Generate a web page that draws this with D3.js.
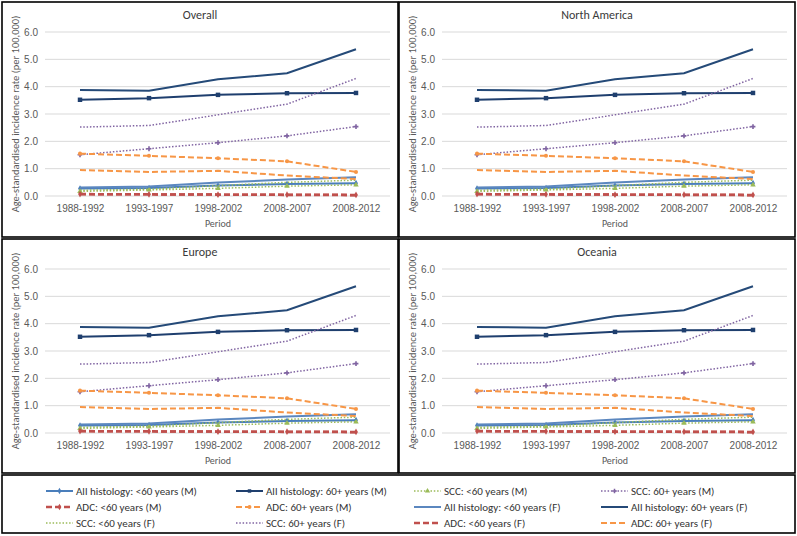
<!DOCTYPE html>
<html>
<head>
<meta charset="utf-8">
<script src="https://cdn.jsdelivr.net/npm/d3@7"></script>
<style>
  body { margin: 0; background: #fff; }
  svg { display: block; font-family: Carlito, Lato, "Liberation Sans", sans-serif; font-weight: 400; }
</style>
</head>
<body>
<svg id="chart" width="797" height="536"></svg>
<script>
// categories and panel titles
const periods = ["1988-1992", "1993-1997", "1998-2002", "2008-2007", "2008-2012"]
const panelTitles = ["Overall", "North America", "Europe", "Oceania"]
const yTicks = [0, 1, 2, 3, 4, 5, 6]

// series values (age-standardised incidence per 100,000)
const allLt60M  = [0.27, 0.29, 0.38, 0.44, 0.47]
const all60M    = [3.52, 3.58, 3.70, 3.76, 3.77]
const sccLt60M  = [0.17, 0.22, 0.28, 0.36, 0.41]
const scc60M    = [1.51, 1.73, 1.95, 2.20, 2.54]
const adcLt60M  = [0.07, 0.06, 0.05, 0.05, 0.04]
const adc60M    = [1.55, 1.47, 1.38, 1.27, 0.88]
const allLt60F  = [0.31, 0.35, 0.49, 0.60, 0.69]
const all60F    = [3.88, 3.85, 4.27, 4.49, 5.37]
const sccLt60F  = [0.21, 0.25, 0.38, 0.50, 0.58]
const scc60F    = [2.52, 2.58, 2.97, 3.36, 4.30]
const adcLt60F  = [0.06, 0.06, 0.05, 0.04, 0.03]
const adc60F    = [0.95, 0.88, 0.92, 0.75, 0.62]

const seriesNames = [
    "All histology: <60 years (M)", "All histology: 60+ years (M)", "SCC: <60 years (M)", "SCC: 60+ years (M)",
    "ADC: <60 years (M)", "ADC: 60+ years (M)", "All histology: <60 years (F)", "All histology: 60+ years (F)",
    "SCC: <60 years (F)", "SCC: 60+ years (F)", "ADC: <60 years (F)", "ADC: 60+ years (F)"
]
const seriesValues = [allLt60M, all60M, sccLt60M, scc60M, adcLt60M, adc60M,
                      allLt60F, all60F, sccLt60F, scc60F, adcLt60F, adc60F]

// styles per series (same order)
const DOT = "1.5 1.8", DASH = "6 3"
const styles = [
    { color: "#4a7ebb", width: 2,   dash: null, marker: d3.symbolDiamond },
    { color: "#1f3f6e", width: 2,   dash: null, marker: d3.symbolSquare },
    { color: "#9bbb59", width: 1.5, dash: DOT,  marker: d3.symbolTriangle },
    { color: "#8064a2", width: 1.5, dash: DOT,  marker: d3.symbolCross },
    { color: "#c0504d", width: 2.5, dash: DASH, marker: d3.symbolDiamond },
    { color: "#f79646", width: 2,   dash: DASH, marker: d3.symbolCircle },
    { color: "#5b87bf", width: 2,   dash: null, marker: null },
    { color: "#254a78", width: 2,   dash: null, marker: null },
    { color: "#9bbb59", width: 1.5, dash: DOT,  marker: null },
    { color: "#8064a2", width: 1.5, dash: DOT,  marker: null },
    { color: "#c0504d", width: 2.5, dash: DASH, marker: null },
    { color: "#f79646", width: 2,   dash: DASH, marker: null },
]

const svg = d3.select("#chart")

// panel boxes: [x, y, w, h]
const panels = [[2, 2, 396, 235], [399, 2, 396, 235], [2, 239, 396, 234], [399, 239, 396, 234]]

panels.forEach((p, pi) => {
    const [px, py, pw, ph] = p
    const g = svg.append("g").attr("transform", `translate(${px},${py})`)

    g.append("rect")
        .attr("width", pw).attr("height", ph)
        .attr("fill", "#fff").attr("stroke", "#000").attr("stroke-width", 1.6)

    const x = d3.scalePoint().domain(periods).range([78, 354]).padding(0)
    const y = d3.scaleLinear().domain([0, 6]).range([194, 30])

    // gridlines
    g.append("g").selectAll("line").data(yTicks).join("line")
        .attr("x1", 43).attr("x2", 388)
        .attr("y1", d => y(d)).attr("y2", d => y(d))
        .attr("stroke", "#d9d9d9").attr("stroke-width", 1)

    // y axis labels
    const yAxis = d3.axisLeft(y).tickValues(yTicks).tickFormat(d3.format(".1f")).tickSize(0).tickPadding(0)
    g.append("g").attr("transform", "translate(36,0)").call(yAxis)
        .call(a => a.select(".domain").remove())
        .selectAll("text").attr("font-size", 10).attr("fill", "#595959").attr("font-family", null)

    // x axis labels
    const xAxis = d3.axisBottom(x).tickSize(0).tickPadding(0)
    g.append("g").attr("transform", "translate(0,203)").call(xAxis)
        .call(a => a.select(".domain").remove())
        .selectAll("text").attr("font-size", 10).attr("fill", "#595959").attr("font-family", null)

    g.append("text")
        .attr("x", pw / 2).attr("y", 17)
        .attr("text-anchor", "middle").attr("font-size", 12).attr("font-weight", 400).attr("fill", "#3a3a3a")
        .text(panelTitles[pi])

    g.append("text")
        .attr("x", 216).attr("y", 225)
        .attr("text-anchor", "middle").attr("font-size", 10).attr("fill", "#595959")
        .text("Period")

    g.append("text")
        .attr("transform", `translate(17,${(y(0) + y(6)) / 2}) rotate(-90)`)
        .attr("text-anchor", "middle").attr("font-size", 10.5).attr("fill", "#595959")
        .text("Age-standardised incidence rate (per 100,000)")

    const line = d3.line().x((d, i) => x(periods[i])).y(d => y(d))

    seriesValues.forEach((vals, si) => {
        const st = styles[si]
        g.append("path")
            .datum(vals)
            .attr("fill", "none")
            .attr("stroke", st.color)
            .attr("stroke-width", st.width)
            .attr("stroke-dasharray", st.dash)
            .attr("d", line)
        if (st.marker) {
            g.append("g").selectAll("path").data(vals).join("path")
                .attr("transform", (d, i) => `translate(${x(periods[i])},${y(d)})`)
                .attr("d", d3.symbol(st.marker, st.marker === d3.symbolSquare ? 20 : 13))
                .attr("fill", st.color)
        }
    })
})

// legend
const lg = svg.append("g")
lg.append("rect")
    .attr("x", 2).attr("y", 475).attr("width", 793).attr("height", 58)
    .attr("fill", "#fff").attr("stroke", "#000").attr("stroke-width", 1.6)

const colX = [46, 236, 414, 601]
const rowY = [491, 507, 523]
seriesNames.forEach((name, i) => {
    const st = styles[i]
    const cx = colX[i % 4], cy = rowY[Math.floor(i / 4)]
    lg.append("line")
        .attr("x1", cx).attr("x2", cx + 27).attr("y1", cy).attr("y2", cy)
        .attr("stroke", st.color).attr("stroke-width", st.width)
        .attr("stroke-dasharray", st.dash)
    if (st.marker) {
        lg.append("path")
            .attr("transform", `translate(${cx + 13.5},${cy})`)
            .attr("d", d3.symbol(st.marker, 12))
            .attr("fill", st.color)
    }
    lg.append("text")
        .attr("x", cx + 30).attr("y", cy + 4)
        .attr("font-size", 11).attr("fill", "#333")
        .text(name)
})
</script>
</body>
</html>
